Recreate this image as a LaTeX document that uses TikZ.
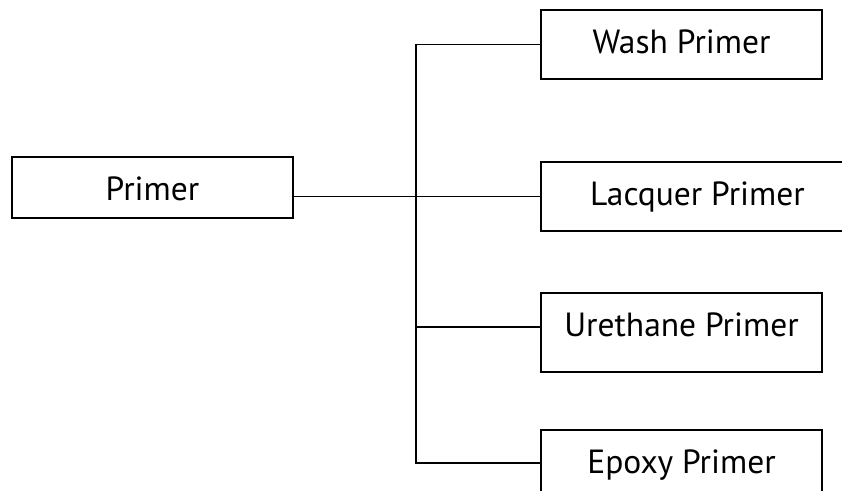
\documentclass[tikz,border=0pt]{standalone}
\usepackage{fontspec}
\setmainfont{PT Sans}
\begin{document}
\begin{tikzpicture}[x=1pt, y=-1pt, line width=1.3pt,
                box/.style = {draw, rectangle, inner sep=0pt, anchor=base,
                    font=\fontsize{33.5}{40}\selectfont, text height=43pt}]
                \useasboundingbox (0,0) rectangle (842,490);
                \clip (0,0) rectangle (842,490);
                \node [box, minimum width=281pt, text depth=18pt] (primer) at (152.5,200) {Primer};
                \node [box, minimum width=281pt, text depth=26pt] (wash) at (681.5,53) {Wash Primer};
                \node [box, minimum width=313pt, text depth=26pt] (lacquer) at (697.5,205) {Lacquer Primer};
                \node [box, minimum width=281pt, text depth=36pt] (urethane) at (681.5,336) {Urethane Primer};
                \node [box, minimum width=281pt, text depth=23pt] (epoxy) at (681.5,473) {Epoxy Primer};
                \coordinate (trunk) at (416,0);
                \coordinate (ureth in) at ([yshift=5.5pt]urethane.west);
                \draw (primer.east |- lacquer.west) -- (lacquer.west);
                \draw (wash.west) -| (trunk |- epoxy.west) -- (epoxy.west);
                \draw (ureth in) -- (trunk |- ureth in);
            \end{tikzpicture}
\end{document}
